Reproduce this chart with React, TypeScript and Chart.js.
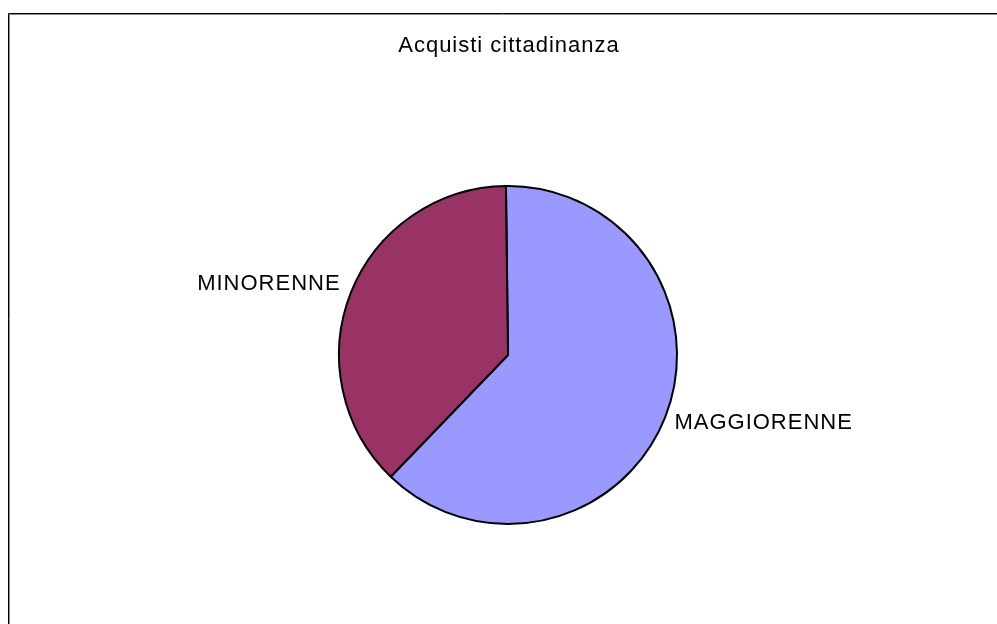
import React, { useEffect, useRef } from "react";
import { Chart, registerables } from "chart.js";

Chart.register(...registerables);

const title = "Acquisti cittadinanza";
const categories = ["MAGGIORENNE", "MINORENNE"];
const values = [62.4, 37.6];
const colors = ["#9999FF", "#993366"];

const W = 997;
const H = 624;

const framePlugin = {
  id: "frame",
  beforeDraw(chart: any) {
    const ctx = chart.ctx;
    ctx.save();
    ctx.fillStyle = "#ffffff";
    ctx.fillRect(0, 0, W, H);
    ctx.strokeStyle = "#000000";
    ctx.lineWidth = 1;
    ctx.beginPath();
    ctx.moveTo(8.5, H);
    ctx.lineTo(8.5, 13.5);
    ctx.lineTo(W, 13.5);
    ctx.stroke();
    ctx.strokeStyle = "#8a8a8a";
    ctx.beginPath();
    ctx.moveTo(9.5, H);
    ctx.lineTo(9.5, 14.5);
    ctx.lineTo(W, 14.5);
    ctx.stroke();
    ctx.restore();
  },
};

const labelPlugin = {
  id: "labelsTitle",
  afterDraw(chart: any) {
    const ctx = chart.ctx;
    ctx.save();
    (ctx as any).letterSpacing = "1px";
    ctx.font = "22px 'Liberation Sans', Arial, sans-serif";
    ctx.fillStyle = "#000000";
    ctx.textBaseline = "alphabetic";
    ctx.textAlign = "center";
    const area = chart.chartArea;
    ctx.fillText(title, (area.left + area.right) / 2 + 1, 52);

    const meta = chart.getDatasetMeta(0);
    const yOffsets = [0, -7];
    meta.data.forEach((arc: any, i: number) => {
      const p = arc.getProps(["x", "y", "startAngle", "endAngle", "outerRadius"], true);
      const mid = (p.startAngle + p.endAngle) / 2;
      const r = p.outerRadius + 10;
      const ax = p.x + Math.cos(mid) * r;
      const ay = p.y + Math.sin(mid) * r + yOffsets[i];
      ctx.textAlign = Math.cos(mid) >= 0 ? "left" : "right";
      ctx.fillText(categories[i], ax + (Math.cos(mid) >= 0 ? 0 : -1), ay + 8);
    });
    ctx.restore();
  },
};

export default function App() {
  const ref = useRef<HTMLCanvasElement>(null);
  useEffect(() => {
    if (!ref.current) return;
    const chart = new Chart(ref.current, {
      type: "pie",
      data: {
        labels: categories,
        datasets: [
          {
            data: values,
            backgroundColor: colors,
            borderColor: "#000000",
            borderWidth: 2,
          },
        ],
      },
      options: {
        responsive: false,
        animation: false,
        devicePixelRatio: 1,
        rotation: -0.7,
        layout: { padding: { left: 338, right: W - 678, top: 185, bottom: H - 525 } },
        plugins: {
          legend: { display: false },
          title: { display: false },
          tooltip: { enabled: false },
        },
      },
      plugins: [framePlugin, labelPlugin],
    });
    return () => chart.destroy();
  }, []);
  return (
    <div style={{ position: "fixed", left: 0, top: 0, width: W, height: H, background: "#fff" }}>
      <canvas ref={ref} width={W} height={H} style={{ display: "block", width: W, height: H }} />
    </div>
  );
}
